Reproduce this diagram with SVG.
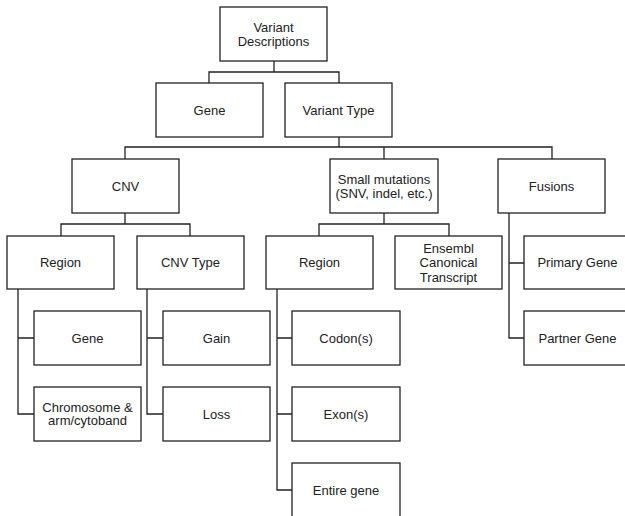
<svg xmlns="http://www.w3.org/2000/svg" width="625" height="516" viewBox="0 0 625 516">
<style>
.box{fill:#fff;stroke:#222;stroke-width:1.3}
.t{font-family:"Liberation Sans",Arial,sans-serif;font-size:13px;fill:#222;text-anchor:middle}
.c{fill:none;stroke:#222;stroke-width:1.3}
</style>
<rect width="625" height="516" fill="#fff"/>
<g id="connectors" class="c">
<path d="M274,61V72M209,83V72H339V83"/>
<path d="M339,137V147M125,159V147H552V159M384,147V159"/>
<path d="M125,213V224M61,236V224H190V236"/>
<path d="M384,213V224M319,236V224H449V236"/>
<path d="M509,213V338H524M509,263H524"/>
<path d="M18,289V414H34M18,338H34"/>
<path d="M147,289V414H163M147,338H163"/>
<path d="M277,289V490H292M277,338H292M277,414H292"/>
</g>
<g id="variant-descriptions"><rect class="box" x="220" y="7" width="107" height="54"/><text class="t" x="273.5" y="32">Variant</text><text class="t" x="273.5" y="45.5">Descriptions</text></g>
<g id="gene-top"><rect class="box" x="156" y="83" width="107" height="54"/><text class="t" x="209.5" y="114.6">Gene</text></g>
<g id="variant-type"><rect class="box" x="285" y="83" width="107" height="54"/><text class="t" x="338.5" y="114.6">Variant Type</text></g>
<g id="cnv"><rect class="box" x="72" y="159" width="107" height="54"/><text class="t" x="125.5" y="190.6">CNV</text></g>
<g id="small-mutations"><rect class="box" x="330" y="159" width="108" height="54"/><text class="t" x="384" y="184">Small mutations</text><text class="t" x="384" y="197.5">(SNV, indel, etc.)</text></g>
<g id="fusions"><rect class="box" x="498" y="159" width="107" height="54"/><text class="t" x="551.5" y="190.6">Fusions</text></g>
<g id="cnv-region"><rect class="box" x="7" y="236" width="107" height="53"/><text class="t" x="60.5" y="267">Region</text></g>
<g id="cnv-type"><rect class="box" x="137" y="236" width="107" height="53"/><text class="t" x="190.5" y="267">CNV Type</text></g>
<g id="sm-region"><rect class="box" x="266" y="236" width="107" height="53"/><text class="t" x="319.5" y="267">Region</text></g>
<g id="ensembl"><rect class="box" x="395" y="236" width="107" height="53"/><text class="t" x="448.5" y="252.6">Ensembl</text><text class="t" x="448.5" y="267">Canonical</text><text class="t" x="448.5" y="281.6">Transcript</text></g>
<g id="primary-gene"><rect class="box" x="524" y="236" width="107" height="53"/><text class="t" x="577.5" y="267">Primary Gene</text></g>
<g id="partner-gene"><rect class="box" x="524" y="311" width="107" height="54"/><text class="t" x="577.5" y="342.6">Partner Gene</text></g>
<g id="cnv-gene"><rect class="box" x="34" y="311" width="107" height="54"/><text class="t" x="87.5" y="342.6">Gene</text></g>
<g id="chromosome"><rect class="box" x="34" y="387" width="107" height="54"/><text class="t" x="87.5" y="411.6">Chromosome &amp;</text><text class="t" x="87.5" y="425.1">arm/cytoband</text></g>
<g id="gain"><rect class="box" x="163" y="311" width="107" height="54"/><text class="t" x="216.5" y="342.6">Gain</text></g>
<g id="loss"><rect class="box" x="163" y="387" width="107" height="54"/><text class="t" x="216.5" y="418.6">Loss</text></g>
<g id="codons"><rect class="box" x="292" y="311" width="108" height="54"/><text class="t" x="346" y="342.6">Codon(s)</text></g>
<g id="exons"><rect class="box" x="292" y="387" width="108" height="54"/><text class="t" x="346" y="418.6">Exon(s)</text></g>
<g id="entire-gene"><rect class="box" x="292" y="463" width="108" height="54"/><text class="t" x="346" y="494.6">Entire gene</text></g>
</svg>
